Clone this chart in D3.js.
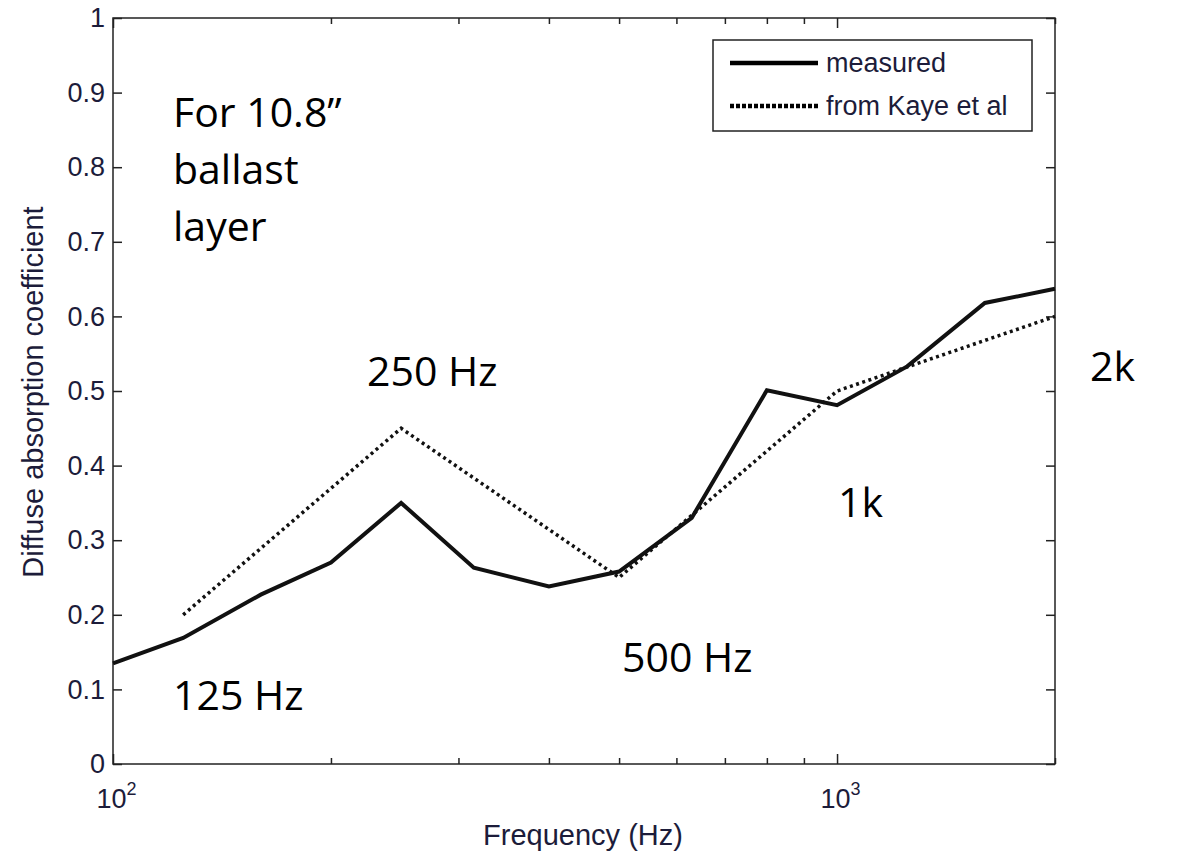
<!DOCTYPE html>
<html lang="en">
<head>
<meta charset="UTF-8">
<title>Diffuse absorption coefficient</title>
<script src="https://d3js.org/d3.v7.min.js"></script>
<style>
  body { margin: 0; background: #fff; }
  .note { font-family: "Open Sans", "Noto Sans", sans-serif; font-size: 41px; fill: #000; }
</style>
</head>
<body>
<script>

  // 1/3 octave band centres
  const freqs = [100, 125, 160, 200, 250, 315, 400, 500, 630, 800, 1000, 1250, 1600, 2000];
  const measured = [0.135, 0.169, 0.227, 0.270, 0.350, 0.263, 0.238, 0.258, 0.330, 0.501, 0.481, 0.533, 0.618, 0.637];

  // octave values from Kaye et al
  const kayeFreqs = [125, 250, 500, 1000, 2000];
  const kaye = [0.20, 0.45, 0.25, 0.50, 0.60];

  const yTicks = [0, 0.1, 0.2, 0.3, 0.4, 0.5, 0.6, 0.7, 0.8, 0.9, 1];
  const xMajor = [100, 1000];
  const xMinor = [200, 300, 400, 500, 600, 700, 800, 900, 2000];

  const plotL = 113, plotT = 18, plotR = 1055, plotB = 764;
  const sans = '"Liberation Sans", Arial, sans-serif';
  const txtCol = '#1c1c3a';

  const svg = d3.select('body').append('svg').attr('width', 1182).attr('height', 852);

  const x = d3.scaleLog().domain([100, 2000]).range([plotL, plotR]);
  const y = d3.scaleLinear().domain([0, 1]).range([plotB, plotT]);

  // frame
  svg.append('rect')
    .attr('x', plotL).attr('y', plotT)
    .attr('width', plotR - plotL).attr('height', plotB - plotT)
    .attr('fill', 'none').attr('stroke', '#222').attr('stroke-width', 1.5);

  // y axis (ticks inward) left and right
  const yAxis = svg.append('g').attr('transform', `translate(${plotL},0)`)
    .call(d3.axisLeft(y).tickValues(yTicks).tickSizeInner(-9).tickSizeOuter(0).tickPadding(8)
      .tickFormat(d => d === 0 || d === 1 ? d3.format('d')(d) : d3.format('.1f')(d)));
  yAxis.select('.domain').remove();
  yAxis.attr('font-family', sans).attr('font-size', 27);
  yAxis.selectAll('.tick text').attr('fill', txtCol);

  const yAxisR = svg.append('g').attr('transform', `translate(${plotR},0)`)
    .call(d3.axisRight(y).tickValues(yTicks).tickSizeInner(-9).tickSizeOuter(0).tickFormat(''));
  yAxisR.select('.domain').remove();

  // x axis bottom: majors with labels, minors short
  const xAxis = svg.append('g').attr('transform', `translate(0,${plotB})`)
    .call(d3.axisBottom(x).tickValues(xMajor).tickSizeInner(-10).tickSizeOuter(0).tickPadding(25).tickFormat(''));
  xAxis.select('.domain').remove();
  xAxis.attr('font-family', sans).attr('font-size', 27);
  xAxis.selectAll('.tick text').each(function (d) {
    const t = d3.select(this);
    t.append('tspan').text('10');
    t.append('tspan').attr('dy', -13).attr('font-size', 18).text(Math.round(Math.log10(d)));
  }).attr('dx', 3).attr('fill', txtCol);

  const xMinorB = svg.append('g').attr('transform', `translate(0,${plotB})`)
    .call(d3.axisBottom(x).tickValues(xMinor).tickSizeInner(-6).tickSizeOuter(0).tickFormat(''));
  xMinorB.select('.domain').remove();

  const xAxisT = svg.append('g').attr('transform', `translate(0,${plotT})`)
    .call(d3.axisTop(x).tickValues(xMajor).tickSizeInner(-10).tickSizeOuter(0).tickFormat(''));
  xAxisT.select('.domain').remove();
  const xMinorT = svg.append('g').attr('transform', `translate(0,${plotT})`)
    .call(d3.axisTop(x).tickValues(xMinor).tickSizeInner(-6).tickSizeOuter(0).tickFormat(''));
  xMinorT.select('.domain').remove();

  svg.selectAll('.tick line').attr('stroke', '#222').attr('stroke-width', 1.5);

  // axis titles
  svg.append('text')
    .attr('x', 583).attr('y', 845)
    .attr('text-anchor', 'middle')
    .attr('font-family', sans).attr('font-size', 29)
    .attr('fill', txtCol)
    .text('Frequency (Hz)');

  svg.append('text')
    .attr('transform', `translate(43,392) rotate(-90)`)
    .attr('text-anchor', 'middle')
    .attr('font-family', sans).attr('font-size', 29)
    .attr('fill', txtCol)
    .text('Diffuse absorption coefficient');

  // lines
  const line = d3.line().x(d => x(d[0])).y(d => y(d[1]));

  svg.append('path')
    .datum(d3.zip(kayeFreqs, kaye))
    .attr('d', line)
    .attr('fill', 'none').attr('stroke', '#111')
    .attr('stroke-width', 3.5).attr('stroke-dasharray', '3,3.5');

  svg.append('path')
    .datum(d3.zip(freqs, measured))
    .attr('d', line)
    .attr('fill', 'none').attr('stroke', '#111')
    .attr('stroke-width', 4).attr('stroke-linejoin', 'miter');

  // legend
  const lg = svg.append('g');
  lg.append('rect').attr('x', 713).attr('y', 40).attr('width', 319).attr('height', 91)
    .attr('fill', '#fff').attr('stroke', '#222').attr('stroke-width', 1.5);
  const legendItems = [
    { label: 'measured', dash: null, y: 63 },
    { label: 'from Kaye et al', dash: '4,2', y: 106 }
  ];
  legendItems.forEach(it => {
    lg.append('line').attr('x1', 730).attr('x2', 818).attr('y1', it.y).attr('y2', it.y)
      .attr('stroke', '#000').attr('stroke-width', 4.5)
      .attr('stroke-dasharray', it.dash);
    lg.append('text').attr('x', 826).attr('y', it.y + 9)
      .attr('font-family', sans).attr('font-size', 27)
      .attr('fill', txtCol)
      .text(it.label);
  });

  // annotations
  const notes = [
    { t: 'For 10.8\u201d', x: 173, y: 127 },
    { t: 'ballast', x: 173, y: 184 },
    { t: 'layer', x: 173, y: 241 },
    { t: '125 Hz', x: 173, y: 710 },
    { t: '250 Hz', x: 367, y: 386 },
    { t: '500 Hz', x: 622, y: 672 },
    { t: '1k', x: 838, y: 517 },
    { t: '2k', x: 1090, y: 381 }
  ];
  svg.selectAll('.note').data(notes).enter().append('text')
    .attr('class', 'note')
    .attr('x', d => d.x).attr('y', d => d.y)
    .text(d => d.t);

</script>
</body>
</html>
